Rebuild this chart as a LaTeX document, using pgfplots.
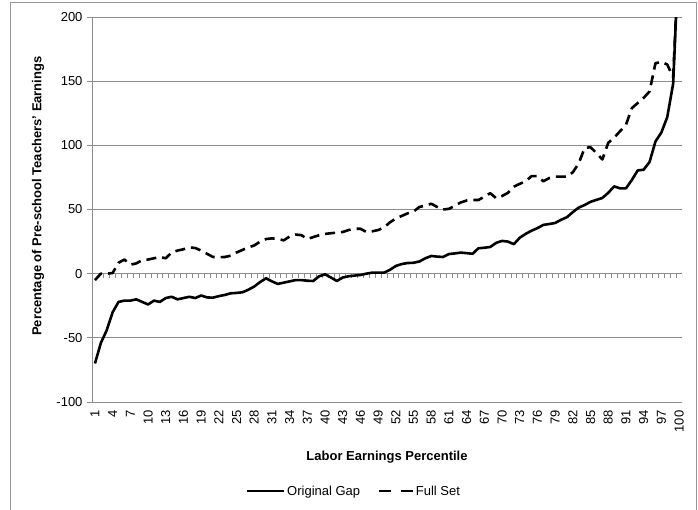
\documentclass[border=0pt]{standalone}
\usepackage{pgfplots}
\pgfplotsset{compat=1.18}
\usepackage{pgfplotstable}
\usepackage{fontspec}
\setmainfont{Liberation Sans}
\definecolor{gridgray}{RGB}{140,140,140}
\definecolor{framegray}{RGB}{150,150,150}

\pgfplotstableread{
x gap full
1 -70 -5
2 -54 0
3 -44 0
4 -30 0.5
5 -22 8.5
6 -21 11
7 -21 7
8 -20 8
9 -22 10.5
10 -24 11
11 -21 12
12 -22 13
13 -19 12
14 -18 16.5
15 -20 18
16 -19 19
17 -18 20.5
18 -19 20
19 -17 18
20 -18.5 15.5
21 -18.7 13
22 -17.5 12.8
23 -16.6 13
24 -15.3 14
25 -15 16.5
26 -14.5 18.5
27 -12.5 20.5
28 -10 22
29 -6.5 25
30 -3.6 27
31 -6 27.5
32 -8 27
33 -7 26
34 -6 29
35 -5 30.5
36 -5 30
37 -5.5 27
38 -5.7 28.5
39 -2 30
40 -0.5 31
41 -3 31.5
42 -5.7 32
43 -3 32.5
44 -2 34
45 -1.5 35
46 -1 35
47 0 32.5
48 0.8 33
49 0.8 34
50 0.8 36
51 3 40
52 6 43
53 7.5 45
54 8.3 47
55 8.5 48.5
56 9.5 52
57 12 53
58 13.8 54.5
59 13.3 52
60 13 50
61 15.3 50.5
62 15.8 53
63 16.4 55.5
64 16 57
65 15.5 57.4
66 19.8 57.4
67 20.2 60
68 20.8 62.7
69 24 58.8
70 25.5 60.5
71 25 63
72 23 67.8
73 28 70
74 31 72
75 33.5 76
76 35.5 76
77 38 72
78 38.7 74.5
79 39.5 75.6
80 42 75.6
81 44 75.6
82 48 79
83 51.5 86
84 53.5 98
85 56 98.5
86 57.5 94
87 59 89
88 63 102
89 68 106
90 66.5 111
91 66.5 116
92 73 129
93 80.5 133
94 81 137
95 87 142
96 103 164
97 110 165
98 122 163
99 148 153
100 255 255
}\data

\begin{document}
\begin{tikzpicture}
\useasboundingbox (-92pt,-107pt) rectangle (606pt,402pt);
\draw[framegray, line width=0.8pt] (-82pt,-130pt) -- (-82pt,400pt) -- (604pt,400pt) -- (604pt,-130pt);
\begin{axis}[
  at={(0pt,0pt)}, anchor=south west,
  scale only axis, width=590pt, height=385pt,
  xmin=0.5, xmax=100.5, ymin=-100, ymax=200,
  ytick={-100,-50,...,200},
  xtick={1,4,...,100},
  axis y line*=left, axis x line*=bottom,
  x axis line style={draw=none},
  y axis line style={gridgray, line width=0.8pt},
  ymajorgrids, grid style={gridgray, line width=0.8pt},
  ytick style={gridgray, line width=0.8pt}, tick align=outside, major tick length=5pt,
  xtick style={draw=none},
  /pgf/number format/assume math mode=true,
  tick label style={font=\fontsize{13}{15}\selectfont},
  xticklabel style={rotate=90, anchor=east, yshift=0pt},
  yticklabel style={xshift=-1pt},
  xlabel={Labor Earnings Percentile},
  ylabel={Percentage of Pre-school Teachers' Earnings},
  label style={font=\fontsize{13}{15}\selectfont\bfseries},
  xlabel style={at={(axis description cs:0.5,-0.143)}, anchor=center},
  ylabel style={at={(axis description cs:-0.0915,0.535)}, anchor=center, rotate=0},
  legend style={at={(axis description cs:0.444,-0.232)}, anchor=center, draw=none,
    fill=none, legend columns=2, font=\fontsize{13}{15}\selectfont,
    /tikz/every even column/.append style={column sep=16pt}},
  clip=true,
]
\pgfplotsinvokeforeach{0,...,100}{\draw[gridgray, line width=0.8pt] (axis cs:{#1+0.5},0) -- ++(0pt,-4pt);}
\addplot[black, line width=2.6pt, line join=round,
  legend image code/.code={\draw[black, line width=2.3pt] (0pt,0pt) -- (37pt,0pt);}]
  table[x=x, y=gap] {\data};
\addlegendentry{Original Gap}
\addplot[black, line width=2.6pt, line join=round, dash pattern=on 10pt off 6pt,
  legend image code/.code={\draw[black, line width=2.3pt, dash pattern=on 11.7pt off 10pt] (0pt,0pt) -- (33.4pt,0pt);}]
  table[x=x, y=full] {\data};
\addlegendentry{Full Set}
\end{axis}
\end{tikzpicture}
\end{document}
